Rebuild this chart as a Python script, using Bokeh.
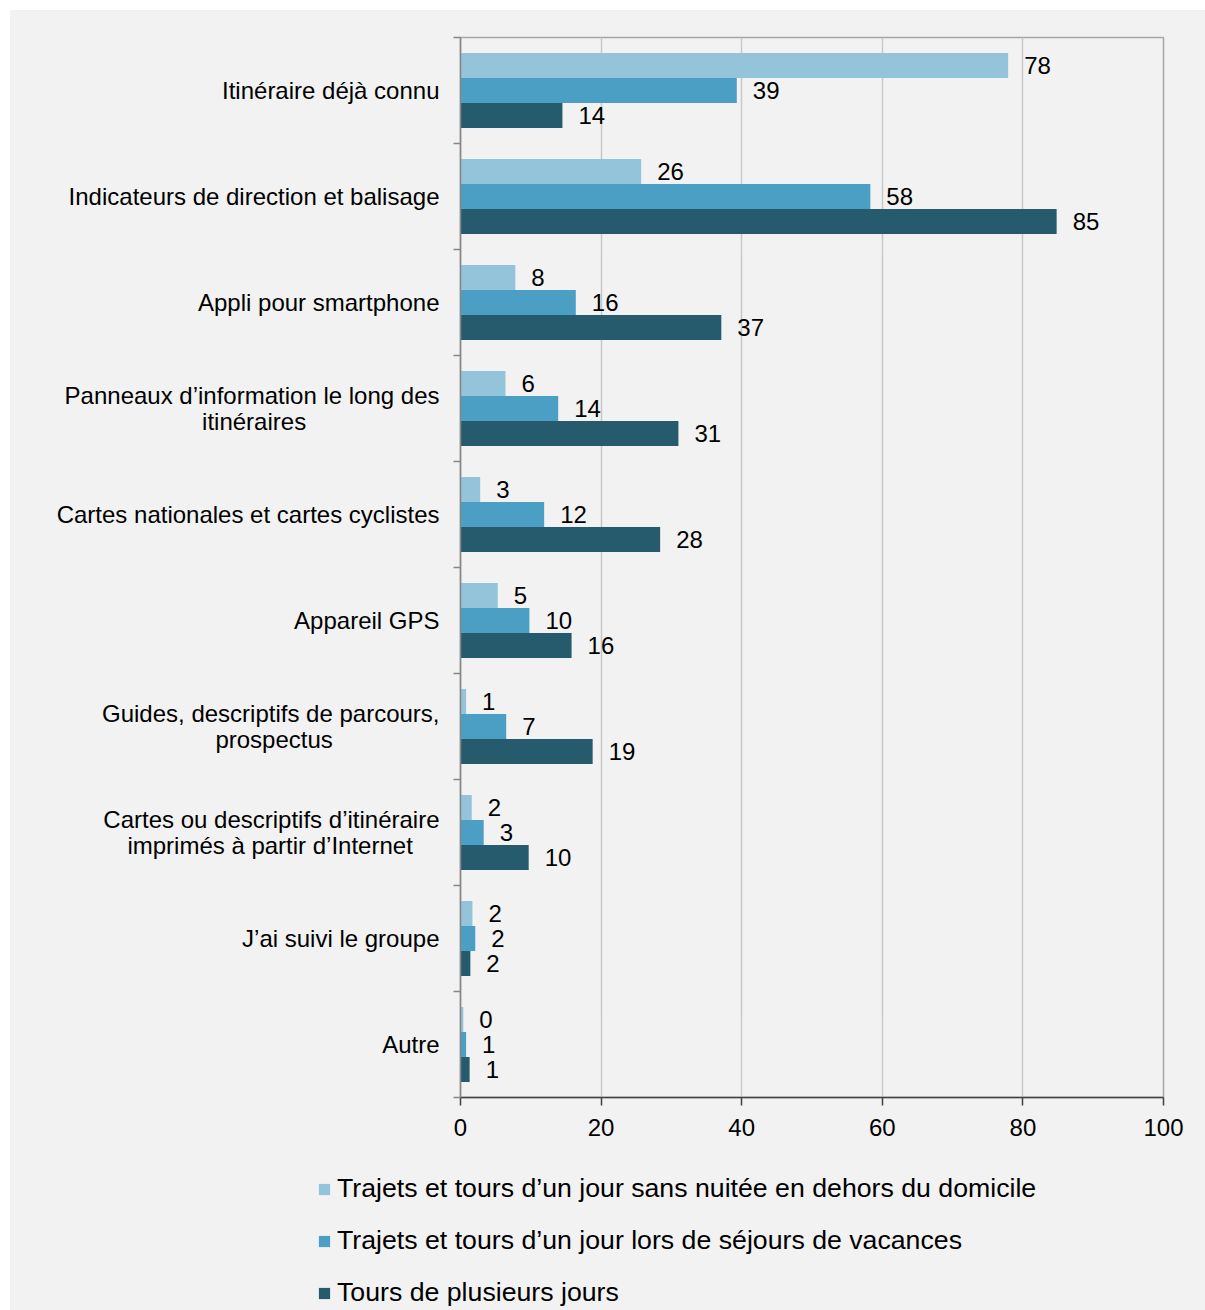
from bokeh.plotting import figure
from bokeh.layouts import column
from bokeh.models import FixedTicker, Legend, LegendItem, ColumnDataSource, Range1d
from bokeh.embed import file_html
from bokeh.resources import INLINE
from bokeh.core.properties import value

NB = "\u00a0"
categories = [
    "Itinéraire déjà connu",
    "Indicateurs de direction et balisage",
    "Appli pour smartphone",
    "Panneaux d’information le long des\nitinéraires" + NB * 20,
    "Cartes nationales et cartes cyclistes",
    "Appareil GPS",
    "Guides, descriptifs de parcours,\nprospectus" + NB * 16,
    "Cartes ou descriptifs d’itinéraire\nimprimés à partir d’Internet" + NB * 4,
    "J’ai suivi le groupe",
    "Autre",
]
series_names = [
    "Trajets et tours d’un jour sans nuitée en dehors du domicile",
    "Trajets et tours d’un jour lors de séjours de vacances",
    "Tours de plusieurs jours",
]
day_trips = [77.9, 25.7, 7.8, 6.4, 2.8, 5.3, 0.8, 1.6, 1.7, 0.4]
holiday_trips = [39.3, 58.3, 16.4, 13.9, 11.9, 9.8, 6.5, 3.3, 2.1, 0.8]
multi_day_tours = [14.5, 84.8, 37.1, 31.0, 28.4, 15.8, 18.8, 9.7, 1.4, 1.3]
day_trips_labels = [78, 26, 8, 6, 3, 5, 1, 2, 2, 0]
holiday_trips_labels = [39, 58, 16, 14, 12, 10, 7, 3, 2, 1]
multi_day_tours_labels = [14, 85, 37, 31, 28, 16, 19, 10, 2, 1]
x_ticks = [0, 20, 40, 60, 80, 100]

colors = ["#93C4DA", "#4B9EC4", "#265A6D"]
BG = "#f2f2f2"
FONT = "Liberation Sans"
n = len(categories)
centers = [n - 1 - i for i in range(n)]
bar_h = 0.236
offsets = [bar_h, 0.0, -bar_h]
all_series = [day_trips, holiday_trips, multi_day_tours]
all_labels = [day_trips_labels, holiday_trips_labels, multi_day_tours_labels]

p = figure(width=1195, height=1150,
           output_backend="svg", toolbar_location=None,
           x_range=Range1d(0, 100), y_range=Range1d(-0.5, n - 0.5),
           min_border_left=450, min_border_right=42, min_border_top=27, min_border_bottom=63)
p.background_fill_color = BG
p.border_fill_color = BG
p.outline_line_color = "#a6a6a6"
p.outline_line_width = 1.5

for vals, labs, col, off in zip(all_series, all_labels, colors, offsets):
    src = ColumnDataSource(dict(y=[c + off for c in centers], v=vals,
                                lbl=[str(l) for l in labs]))
    p.hbar(y="y", left=0, right="v", height=bar_h, source=src,
           fill_color=col, line_color=None)
    p.text(x="v", y="y", text="lbl", source=src, x_offset=16, text_align="left",
           text_baseline="middle", text_font=value(FONT), text_font_size="24px",
           text_color="black")

# y axis
p.yaxis.ticker = FixedTicker(ticks=centers, minor_ticks=[i - 0.5 for i in range(n + 1)])
p.yaxis.major_label_overrides = {c: cat for c, cat in zip(centers, categories)}
p.yaxis.major_tick_out = 0
p.yaxis.major_tick_in = 0
p.yaxis.minor_tick_out = 7
p.yaxis.minor_tick_in = 0
p.yaxis.minor_tick_line_color = "#868686"
p.yaxis.minor_tick_line_width = 1.5
p.yaxis.axis_line_color = "#868686"
p.yaxis.axis_line_width = 1.5
p.yaxis.major_label_standoff = 14
p.yaxis.major_label_text_font = FONT
p.yaxis.major_label_text_font_size = "24px"
p.yaxis.major_label_text_line_height = 0.94
p.yaxis.major_label_text_color = "black"
p.ygrid.visible = False

# x axis
p.xaxis.ticker = FixedTicker(ticks=x_ticks)
p.xaxis.major_tick_out = 8
p.xaxis.major_tick_in = 0
p.xaxis.axis_line_color = "#404040"
p.xaxis.axis_line_width = 1.5
p.xaxis.major_tick_line_color = "#404040"
p.xaxis.major_tick_line_width = 1.5
p.xaxis.major_label_standoff = 13
p.xaxis.major_label_text_font = FONT
p.xaxis.major_label_text_font_size = "24px"
p.xaxis.major_label_text_color = "black"
p.xgrid.ticker = FixedTicker(ticks=x_ticks)
p.xgrid.grid_line_color = "#c8c8c8"
p.xgrid.grid_line_width = 1.5

# legend panel below the chart (series drawn off-view, only their legend shows)
pl = figure(width=1195, height=150,
            output_backend="svg", toolbar_location=None,
            x_range=Range1d(0, 100), y_range=Range1d(1000, 1001),
            min_border=0, min_border_left=0, min_border_right=0,
            min_border_top=0, min_border_bottom=0)
if "frame_align" in pl.properties():
    pl.frame_align = False
    p.frame_align = False
pl.axis.visible = False
pl.grid.visible = False
pl.outline_line_color = None
pl.background_fill_color = BG
pl.border_fill_color = BG
legend_renderers = []
for vals, col in zip(all_series, colors):
    legend_renderers.append(pl.hbar(y=centers, right=vals, left=0, height=bar_h,
                                    fill_color=col, line_color=None))

legend = Legend(items=[LegendItem(label=nm, renderers=[r]) for nm, r in zip(series_names, legend_renderers)],
                location=(307, 2))
legend.background_fill_alpha = 0
legend.border_line_color = None
legend.padding = 0
legend.margin = 0
legend.glyph_width = 14
legend.glyph_height = 14
legend.label_standoff = 6
legend.label_height = 30
legend.spacing = 21
legend.label_text_font = FONT
legend.label_text_font_size = "26.7px"
legend.label_text_color = "black"
pl.add_layout(legend, "center")

layout = column(p, pl, spacing=0, margin=(10, 0, 0, 10),
                styles={"background-color": BG})
open("out.html", "w").write(file_html(layout, INLINE))
